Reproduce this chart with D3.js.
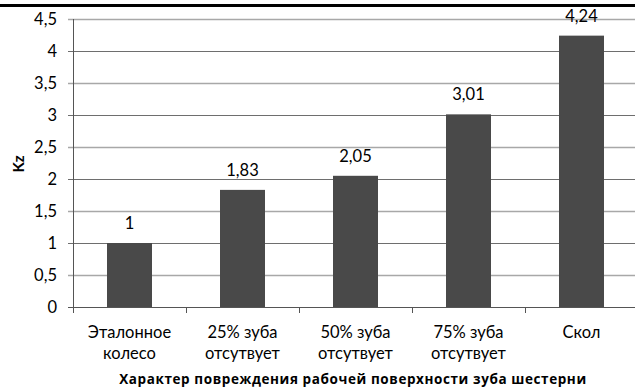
<!DOCTYPE html>
<html>
<head>
<meta charset="utf-8">
<script src="https://cdn.jsdelivr.net/npm/d3@7"></script>
<style>
  html, body { margin: 0; padding: 0; background: #fff; }
  svg { display: block; }
  text { font-family: "Lato", "Open Sans", "Liberation Sans", sans-serif; fill: #000; }
</style>
</head>
<body>
<svg id="chart" width="635" height="389"></svg>
<script>
// Chart data
const categories = [
  ["Эталонное", "колесо"],
  ["25% зуба", "отсутвует"],
  ["50% зуба", "отсутвует"],
  ["75% зуба", "отсутвует"],
  ["Скол"]
];
const values = [1, 1.83, 2.05, 3.01, 4.24];
const valueLabels = ["1", "1,83", "2,05", "3,01", "4,24"];
const yTicks = [0, 0.5, 1, 1.5, 2, 2.5, 3, 3.5, 4, 4.5];
const yTickLabels = ["0", "0,5", "1", "1,5", "2", "2,5", "3", "3,5", "4", "4,5"];
const yTitle = "Kz";
const xTitle = "Характер повреждения рабочей поверхности зуба шестерни";

const svg = d3.select("#chart");
const plotL = 73, plotR = 638, plotT = 19, plotB = 307;
const fs = 16.5;

const x = d3.scaleBand().domain(d3.range(categories.length)).range([plotL, plotR]).paddingInner(0).paddingOuter(0);
const y = d3.scaleLinear().domain([0, 4.5]).range([plotB, plotT]);

// heavy rule across the top edge
svg.append("rect").attr("x", 0).attr("y", 4).attr("width", 635).attr("height", 3).attr("fill", "#000");

// horizontal gridlines
svg.append("g").selectAll("line").data(yTicks).join("line")
  .attr("x1", plotL - 5).attr("x2", 635)
  .attr("y1", d => Math.round(y(d)) + 0.5).attr("y2", d => Math.round(y(d)) + 0.5)
  .attr("stroke", (d, i) => i % 2 === 0 ? "#6e6e6e" : "#a8a8a8")
  .attr("stroke-width", (d, i) => i % 2 === 0 ? 1 : 1.6);

// y tick labels
svg.append("g").selectAll("text").data(yTicks).join("text")
  .attr("x", 57).attr("y", d => y(d)).attr("dy", "0.36em")
  .attr("text-anchor", "end").attr("font-size", fs)
  .text((d, i) => yTickLabels[i]);

// bars
const bw = 45;
svg.append("g").selectAll("rect").data(values).join("rect")
  .attr("x", (d, i) => x(i) + x.bandwidth() / 2 - bw / 2)
  .attr("width", bw)
  .attr("y", d => y(d))
  .attr("height", d => y(0) - y(d))
  .attr("fill", "#494949");

// value labels
svg.append("g").selectAll("text").data(values).join("text")
  .attr("x", (d, i) => x(i) + x.bandwidth() / 2)
  .attr("y", d => y(d) - 14)
  .attr("text-anchor", "middle").attr("font-size", fs)
  .text((d, i) => valueLabels[i]);

// axis lines
svg.append("line").attr("x1", plotL + 0.5).attr("x2", plotL + 0.5).attr("y1", plotT).attr("y2", plotB + 0.5)
  .attr("stroke", "#555");
svg.append("line").attr("x1", plotL - 5).attr("x2", 635).attr("y1", plotB + 0.5).attr("y2", plotB + 0.5)
  .attr("stroke", "#555");
// x ticks at category boundaries
svg.append("g").selectAll("line").data(d3.range(categories.length + 1)).join("line")
  .attr("x1", i => Math.round(plotL + i * x.bandwidth()) + 0.5)
  .attr("x2", i => Math.round(plotL + i * x.bandwidth()) + 0.5)
  .attr("y1", plotB).attr("y2", plotB + 6)
  .attr("stroke", "#555");

// category labels
const cat = svg.append("g").selectAll("text").data(categories).join("text")
  .attr("x", (d, i) => x(i) + x.bandwidth() / 2)
  .attr("y", 338)
  .attr("text-anchor", "middle").attr("font-size", fs);
cat.selectAll("tspan").data(d => d).join("tspan")
  .attr("x", function() { return d3.select(this.parentNode).attr("x"); })
  .attr("dy", (d, i) => i === 0 ? 0 : 21)
  .text(d => d);

// axis titles
svg.append("text").attr("x", 353).attr("y", 384).attr("text-anchor", "middle")
  .style("font-family", "'Open Sans', sans-serif")
  .style("letter-spacing", "0.6px")
  .attr("font-size", 13.5).attr("font-weight", "bold").text(xTitle);
svg.append("text").attr("transform", "translate(24,164) rotate(-90)").attr("text-anchor", "middle")
  .attr("font-size", 15).attr("font-weight", "bold").text(yTitle);
</script>
</body>
</html>
